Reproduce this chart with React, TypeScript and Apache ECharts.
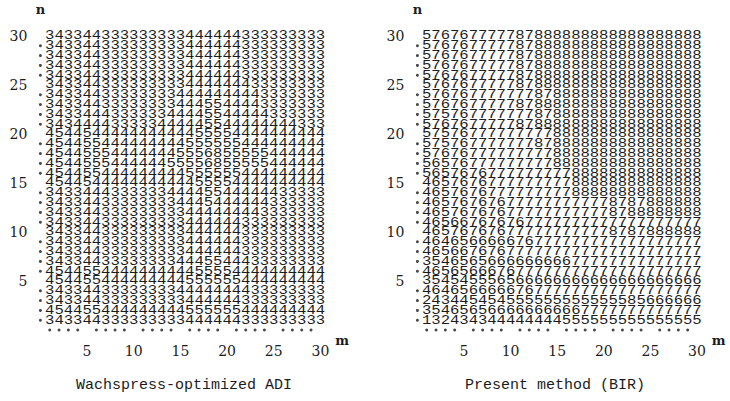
import React, { useEffect, useRef } from "react";
import * as echarts from "echarts";

// Rows listed from n = 30 (top) down to n = 1; each character is the value at m = 1..30
const leftRows: string[] = [
  "343344333333333" + "444444333333333",
  "343344333333333" + "444444333333333",
  "343344333333333" + "444444333333333",
  "343344333333333" + "444444333333333",
  "343344333333333" + "444444333333333",
  "343344333333333" + "444444433333333",
  "343344333333334" + "444444443333333",
  "343344333333334" + "445544443333333",
  "343344433333344" + "445544444333333",
  "343444433333444" + "445544444444333",
  "454454444444444" + "455554444444444",
  "454455444444444" + "555555444444444",
  "454455544444445" + "556855555444444",
  "454455544444455" + "556855555444444",
  "454455444444444" + "555555444444444",
  "454454444444444" + "455554444444444",
  "343344433333344" + "445544444433333",
  "343344333333334" + "445444444333333",
  "343344333333333" + "444444443333333",
  "343344333333333" + "444444333333333",
  "343344333333333" + "444444333333333",
  "343344333333333" + "444444333333333",
  "343344333333333" + "444444333333333",
  "343344333333334" + "445544433333333",
  "454455444444444" + "455554444444444",
  "454455444444444" + "555555444444444",
  "343344333333334" + "444444433333333",
  "343344333333333" + "444444333333333",
  "454455444444444" + "555555444444444",
  "343344333333333" + "444444333333333",
];

const rightRows: string[] = [
  "576767777787888" + "888888888888888",
  "576767777787888" + "888888888888888",
  "576767777787888" + "888888888888888",
  "576767777787888" + "888888888888888",
  "576767777787888" + "888888888888888",
  "576767777787888" + "888888888888888",
  "576767777777878" + "888888888888888",
  "576767777787888" + "888888888888888",
  "575767777777878" + "888888888888888",
  "576767777787888" + "888888888888888",
  "575767777777778" + "888888888888888",
  "575767777777878" + "888888888888888",
  "576767777777778" + "888888888888888",
  "565767777777778" + "888888888888888",
  "565767677777777" + "788888888888888",
  "465767677777777" + "788888888888888",
  "465767677777777" + "788888888888888",
  "465767676777777" + "777778787888888",
  "465767676777777" + "777778788888888",
  "465667676767777" + "777777777777777",
  "465767676777777" + "777778787888888",
  "464656666676777" + "777777777777777",
  "465667676777777" + "777777777777777",
  "354656566666666" + "677777777777777",
  "465656667677777" + "777777777777777",
  "354545556566666" + "666666666666666",
  "464656666676777" + "777777777777777",
  "243445454555555" + "555555585666666",
  "354656566666666" + "667777777777777",
  "132434344444444" + "555555555555555",
];

const topN = 30;
const dotSteps: number[] = [1, 2, 3, 4, 6, 7, 8, 9, 11, 12, 13, 14, 16, 17, 18, 19, 21, 22, 23, 24, 26, 27, 28, 29];
const titles: string[] = ["Wachspress-optimized ADI", "Present method (BIR)"];

function toCells(rows: string[]): number[][] {
  const out: number[][] = [];
  rows.forEach((row, i) => {
    const n = topN - i;
    for (let j = 0; j < row.length; j++) out.push([j + 1, n, Number(row[j])]);
  });
  return out;
}

const INK = "#1c1c1c";

export default function App() {
  const ref = useRef<HTMLDivElement>(null);
  useEffect(() => {
    if (!ref.current) return;
    const chart = echarts.init(ref.current, undefined, { renderer: "svg" });
    const grids = [
      { left: 40.4, top: 36, width: 280, height: 294 },
      { left: 417.4, top: 36, width: 279.6, height: 294 },
    ];
    const xAxes = grids.map((_, i) => ({
      type: "value",
      gridIndex: i,
      min: 0,
      max: 30,
      interval: 5,
      name: "m",
      nameLocation: "end",
      nameGap: 14,
      nameTextStyle: {
        fontFamily: "DejaVu Serif",
        fontSize: 13,
        fontWeight: "bold",
        color: INK,
        verticalAlign: "top",
        align: "left",
        padding: [4, 0, 0, 0],
      },
      axisLine: { show: false },
      axisTick: { show: false },
      splitLine: { show: false },
      axisLabel: {
        margin: 14,
        fontFamily: "DejaVu Serif",
        fontSize: 14,
        color: INK,
        formatter: (v: number) => (v === 0 ? "" : String(v)),
      },
    }));
    const yAxes = grids.map((_, i) => ({
      type: "value",
      gridIndex: i,
      min: 0,
      max: 30,
      interval: 5,
      name: "n",
      nameLocation: "end",
      nameGap: 20,
      nameTextStyle: {
        fontFamily: "DejaVu Serif",
        fontSize: 13,
        fontWeight: "bold",
        color: INK,
        align: "center",
      },
      axisLine: { show: false },
      axisTick: { show: false },
      splitLine: { show: false },
      axisLabel: {
        margin: 13,
        fontFamily: "DejaVu Serif",
        fontSize: 14,
        color: INK,
        formatter: (v: number) => (v === 0 ? "" : String(v)),
      },
    }));
    const cellSeries = [leftRows, rightRows].map((rows, i) => ({
      type: "custom",
      xAxisIndex: i,
      yAxisIndex: i,
      clip: false,
      silent: true,
      encode: { x: 0, y: 1 },
      data: toCells(rows),
      renderItem: (_p: any, api: any) => {
        const p = api.coord([api.value(0), api.value(1)]);
        return {
          type: "text",
          x: p[0],
          y: p[1],
          scaleX: 1.3,
          style: {
            text: String(api.value(2)),
            fontFamily: "Liberation Mono",
            fontSize: 12,
            fill: INK,
            align: "center",
            verticalAlign: "middle",
          },
        };
      },
    }));
    const dotSeries = [0, 1].map((i) => ({
      type: "scatter",
      xAxisIndex: i,
      yAxisIndex: i,
      silent: true,
      clip: false,
      symbol: "circle",
      symbolSize: 3,
      itemStyle: { color: INK },
      data: [...dotSteps.map((n) => [0, n]), ...dotSteps.map((m) => [m, 0])],
    }));
    chart.setOption({
      animation: false,
      backgroundColor: "#ffffff",
      grid: grids,
      xAxis: xAxes,
      yAxis: yAxes,
      series: [...cellSeries, ...dotSeries],
      graphic: [
        {
          type: "text",
          x: 184,
          y: 385,
          style: {
            text: titles[0],
            fontFamily: "Liberation Mono",
            fontSize: 15,
            fill: INK,
            align: "center",
            verticalAlign: "middle",
          },
        },
        {
          type: "text",
          x: 555,
          y: 385,
          style: {
            text: titles[1],
            fontFamily: "Liberation Mono",
            fontSize: 15,
            fill: INK,
            align: "center",
            verticalAlign: "middle",
          },
        },
      ],
    });
    return () => chart.dispose();
  }, []);
  return (
    <div
      ref={ref}
      style={{ position: "fixed", left: 0, top: 0, width: 730, height: 401, background: "#fff" }}
    />
  );
}
